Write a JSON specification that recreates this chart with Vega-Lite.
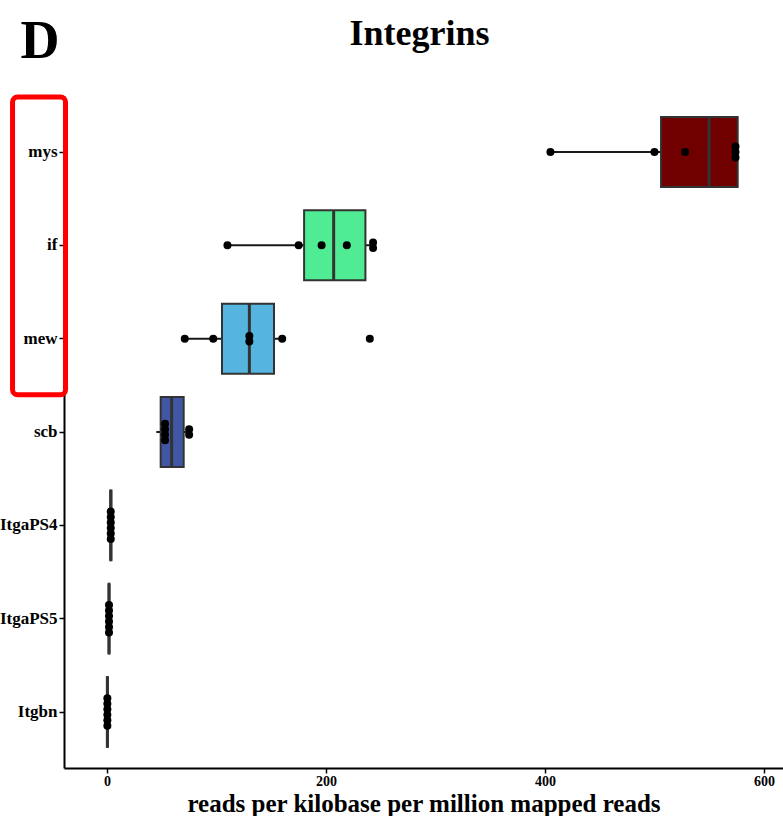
{
  "$schema": "https://vega.github.io/schema/vega-lite/v6.json",
  "width": 719,
  "height": 672,
  "autosize": "none",
  "padding": {"left": 64, "top": 96, "right": 0, "bottom": 48},
  "background": "white",
  "config": {"view": {"stroke": null}, "font": "Liberation Serif"},
  "title": {"text": "Integrins", "fontSize": 36, "fontWeight": "bold", "font": "Liberation Serif", "color": "black", "anchor": "middle", "frame": "group", "baseline": "alphabetic", "offset": -67, "dx": -4},
  "datasets": {
    "boxes": [
      {"gene": "mys", "min": 405, "q1": 506, "median": 550, "q3": 576, "max": 576},
      {"gene": "if", "min": 110, "q1": 180, "median": 207, "q3": 236, "max": 243},
      {"gene": "mew", "min": 71, "q1": 105, "median": 130, "q3": 152.5, "max": 160},
      {"gene": "scb", "min": 45, "q1": 49, "median": 59, "q3": 70, "max": 77},
      {"gene": "ItgaPS4", "min": 3, "q1": 3, "median": 3.4, "q3": 4, "max": 4},
      {"gene": "ItgaPS5", "min": 1.5, "q1": 1.5, "median": 1.8, "q3": 2.2, "max": 2.2},
      {"gene": "Itgbn", "min": 0, "q1": 0, "median": 0.3, "q3": 0.7, "max": 0.7}
    ],
    "dots": [
      {"gene": "mys", "value": 405}, {"gene": "mys", "value": 500}, {"gene": "mys", "value": 528},
      {"gene": "mys", "value": 574}, {"gene": "mys", "value": 574}, {"gene": "mys", "value": 574},
      {"gene": "if", "value": 110}, {"gene": "if", "value": 175}, {"gene": "if", "value": 196},
      {"gene": "if", "value": 219}, {"gene": "if", "value": 243}, {"gene": "if", "value": 243},
      {"gene": "mew", "value": 71}, {"gene": "mew", "value": 97}, {"gene": "mew", "value": 130},
      {"gene": "mew", "value": 130}, {"gene": "mew", "value": 160}, {"gene": "mew", "value": 240},
      {"gene": "scb", "value": 53}, {"gene": "scb", "value": 53}, {"gene": "scb", "value": 53},
      {"gene": "scb", "value": 53}, {"gene": "scb", "value": 75}, {"gene": "scb", "value": 75},
      {"gene": "ItgaPS4", "value": 3.4}, {"gene": "ItgaPS4", "value": 3.4}, {"gene": "ItgaPS4", "value": 3.4},
      {"gene": "ItgaPS4", "value": 3.4}, {"gene": "ItgaPS4", "value": 3.4}, {"gene": "ItgaPS4", "value": 3.4},
      {"gene": "ItgaPS5", "value": 1.8}, {"gene": "ItgaPS5", "value": 1.8}, {"gene": "ItgaPS5", "value": 1.8},
      {"gene": "ItgaPS5", "value": 1.8}, {"gene": "ItgaPS5", "value": 1.8}, {"gene": "ItgaPS5", "value": 1.8},
      {"gene": "Itgbn", "value": 0.3}, {"gene": "Itgbn", "value": 0.3}, {"gene": "Itgbn", "value": 0.3},
      {"gene": "Itgbn", "value": 0.3}, {"gene": "Itgbn", "value": 0.3}, {"gene": "Itgbn", "value": 0.3}
    ],
    "highlight": [{"from": "mys", "to": "scb", "left": -86.3, "right": -37.9}]
  },
  "encoding": {
    "y": {
      "field": "gene", "type": "nominal",
      "scale": {"domain": ["mys", "if", "mew", "scb", "ItgaPS4", "ItgaPS5", "Itgbn"], "paddingInner": 0, "paddingOuter": 0.1},
      "axis": {
        "title": "D", "titleAngle": 0, "titleAlign": "left", "titleBaseline": "alphabetic",
        "titleX": -44, "titleY": -39, "titleFontSize": 54, "titleFontWeight": "bold", "titleFont": "Liberation Serif", "titleColor": "black",
        "labelFont": "Liberation Serif", "labelFontWeight": "bold", "labelFontSize": 17, "labelColor": "black", "labelPadding": 2,
        "tickSize": 5, "tickColor": "black", "tickWidth": 1.5, "domainColor": "black", "domainWidth": 2, "grid": false
      }
    }
  },
  "layer": [
    {
      "data": {"name": "boxes"},
      "mark": {"type": "rule", "color": "#1a1a1a", "strokeWidth": 2},
      "encoding": {
        "x": {
          "field": "min", "type": "quantitative",
          "title": "reads per kilobase per million mapped reads",
          "scale": {"domain": [-39.3, 617.4], "nice": false, "zero": false},
          "axis": {
            "values": [0, 200, 400, 600], "grid": false,
            "labelFont": "Liberation Serif", "labelFontWeight": "bold", "labelFontSize": 14, "labelColor": "black", "labelPadding": 1,
            "tickSize": 5, "tickColor": "black", "tickWidth": 1.5, "domainColor": "black", "domainWidth": 2,
            "titleFont": "Liberation Serif", "titleFontWeight": "bold", "titleFontSize": 25, "titleColor": "black",
            "titleBaseline": "alphabetic", "titleY": 43
          }
        },
        "x2": {"field": "max"}
      }
    },
    {
      "data": {"name": "boxes"},
      "mark": {"type": "bar", "height": 70, "stroke": "#333333", "strokeWidth": 2, "opacity": 1},
      "encoding": {
        "x": {"field": "q1", "type": "quantitative", "title": "reads per kilobase per million mapped reads"},
        "x2": {"field": "q3"},
        "color": {
          "field": "gene", "type": "nominal", "legend": null,
          "scale": {"domain": ["mys", "if", "mew", "scb", "ItgaPS4", "ItgaPS5", "Itgbn"], "range": ["#700000", "#4FEC93", "#56B5DF", "#4157A6", "#2E2E6E", "#3A3A3A", "#3A3A3A"]}
        }
      }
    },
    {
      "data": {"name": "boxes"},
      "mark": {"type": "tick", "size": 70, "thickness": 3, "color": "#333333", "opacity": 1},
      "encoding": {
        "x": {"field": "median", "type": "quantitative", "title": "reads per kilobase per million mapped reads"}
      }
    },
    {
      "data": {"name": "dots"},
      "transform": [
        {"window": [{"op": "row_number", "as": "k"}, {"op": "count", "as": "n"}], "groupby": ["gene", "value"], "frame": [null, null]},
        {"calculate": "datum.k - (datum.n + 1) / 2", "as": "stack"}
      ],
      "mark": {"type": "circle", "size": 64, "color": "black", "opacity": 1},
      "encoding": {
        "x": {"field": "value", "type": "quantitative", "title": "reads per kilobase per million mapped reads"},
        "yOffset": {"field": "stack", "type": "quantitative", "scale": {"domain": [-1, 1], "range": [41.17, 52.17]}}
      }
    },
    {
      "data": {"name": "highlight"},
      "mark": {"type": "rect", "filled": false, "stroke": "#FF0000", "strokeWidth": 5, "cornerRadius": 5},
      "encoding": {
        "x": {"field": "left", "type": "quantitative", "title": "reads per kilobase per million mapped reads"},
        "x2": {"field": "right"},
        "y": {"field": "from", "type": "nominal", "bandPosition": -0.09},
        "y2": {"field": "to", "bandPosition": 0.1}
      }
    }
  ]
}
